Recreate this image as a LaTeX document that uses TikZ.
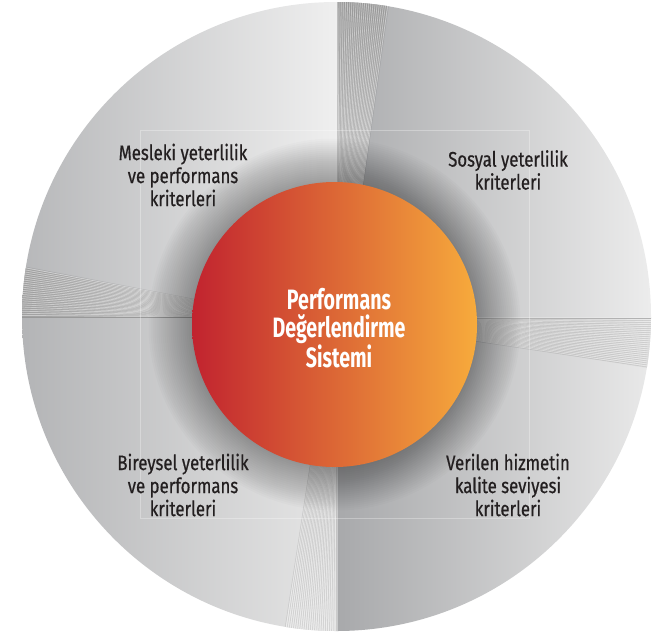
\documentclass[tikz,border=0pt]{standalone}
\usepackage{fontspec}
\newfontfamily\labelfont{Fira Sans}[FakeStretch=0.80,FakeBold=0.6]
\newfontfamily\centerfont{Fira Sans}[FakeStretch=0.70]
\definecolor{tlL}{HTML}{B3B4B6}
\definecolor{tlR}{HTML}{EFEFEF}
\definecolor{trL}{HTML}{ABACAE}
\definecolor{trR}{HTML}{EEEEEE}
\definecolor{blL}{HTML}{B0B1B3}
\definecolor{blR}{HTML}{E6E6E6}
\definecolor{brL}{HTML}{A8A9AB}
\definecolor{brR}{HTML}{EBEBEB}
\definecolor{innerL}{HTML}{C1232F}
\definecolor{innerM}{HTML}{DA5834}
\definecolor{innerR}{HTML}{F7AB3C}
\definecolor{labeltext}{HTML}{231F20}
\begin{document}
\begin{tikzpicture}[x=1pt,y=-1pt,
  lbl/.style={font=\labelfont\fontsize{21}{23}\selectfont, text=labeltext, align=center, inner sep=0pt},
  ctr/.style={font=\centerfont\bfseries\fontsize{28}{28}\selectfont, text=white, align=center, inner sep=0pt},
  stripe/.style={line width=0.7pt, draw=white, opacity=0.35},
  stripedark/.style={line width=0.5pt, draw=black, opacity=0.10}]
\useasboundingbox (0,0) rectangle (660,632);
\coordinate (C) at (336.5,316.5);
\coordinate (I) at (334.5,324.5);
\begin{scope}
  \clip (C) circle (314.5pt);
  % quadrants
  \shade[left color=tlL, right color=tlR] (0,0) rectangle (337,317.5);
  \shade[left color=trL, right color=trR] (337,0) rectangle (660,317.5);
  \shade[left color=blL, right color=blR] (0,317.5) rectangle (337,640);
  \shade[left color=brL, right color=brR] (337,317.5) rectangle (660,640);
  % wedges
  \shade[top color=black!36, bottom color=black!20] (337,-5) -- (389,-5) -- (362,190) -- (337,190) -- cycle;
  \foreach \i in {0,...,24} {
    \draw[stripe] (337+\i*2.17,-5) -- (337+\i*1.04,190);
    \draw[stripedark] (338+\i*2.17,-5) -- (337.5+\i*1.04,190);
  }
  \shade[left color=black!33, right color=black!20] (15,266) -- (15,317.5) -- (196,317.5) -- (196,300) -- cycle;
  \foreach \i in {0,...,24} {
    \draw[stripe] (15,317.5-\i*2.15) -- (196,317.5-\i*0.73);
    \draw[stripedark] (15,316.5-\i*2.15) -- (196,317-\i*0.73);
  }
  \draw[black!40, line width=0.8pt] (15,317.5) -- (196,317.5);
  \shade[left color=black!24, right color=black!12] (474,317.5) -- (660,317.5) -- (660,370) -- (474,340) -- cycle;
  \foreach \i in {0,...,24} {
    \draw[stripe] (474,317.5+\i*0.94) -- (660,317.5+\i*2.1);
    \draw[stripedark] (474,318.5+\i*0.94) -- (660,318.5+\i*2.1);
  }
  \draw[black!30, line width=1.5pt] (474,318.5) -- (660,318.5);
  \shade[top color=black!17, bottom color=black!10] (337,465) -- (337,640) -- (284,640) -- (310,465) -- cycle;
  \foreach \i in {0,...,24} {
    \draw[stripe] (337-\i*1.08,465) -- (337-\i*2.2,640);
    \draw[stripedark] (336-\i*1.08,465) -- (336-\i*2.2,640);
  }
  % faint frame
  \draw[white, opacity=0.3, line width=0.6pt] (140,130) rectangle (529,518);
  % halo
  \foreach \r in {186,184,...,143} {
    \fill[black, opacity=0.014] (I) circle[radius=\r pt];
  }
\end{scope}
% centre disc
\node (core) [circle, minimum size=285pt, inner sep=0pt, left color=innerL, middle color=innerM, right color=innerR] at (I) {};
\node (title) [ctr] at (339,328) {Performans\\Değerlendirme\\Sistemi};
% labels
\node (mesleki) [lbl] at (183,175) {Mesleki yeterlilik\\ve performans\\kriterleri};
\node (sosyal) [lbl] at (508,170) {Sosyal yeterlilik\\kriterleri};
\node (bireysel) [lbl] at (183,485) {Bireysel yeterlilik\\ve performans\\kriterleri};
\node (verilen) [lbl] at (508,485) {Verilen hizmetin\\kalite seviyesi\\kriterleri};
\end{tikzpicture}
\end{document}
